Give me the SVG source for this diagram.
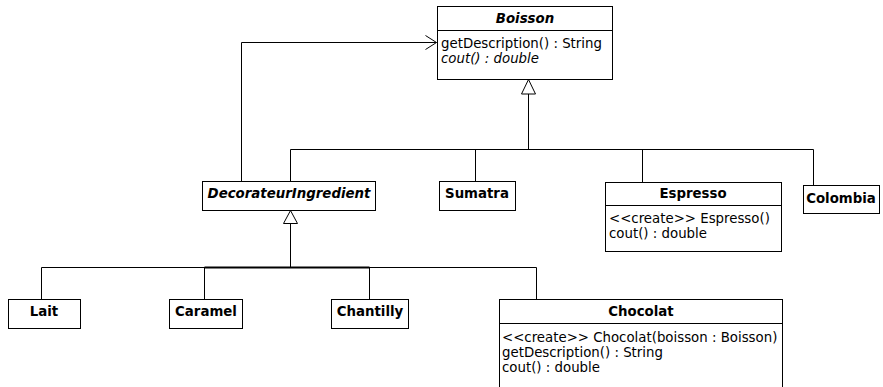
<svg xmlns="http://www.w3.org/2000/svg" width="883" height="387" viewBox="0 0 883 387">
  <style>
    .box { fill: #fff; stroke: #000; stroke-width: 1; }
    .sep { stroke: #000; stroke-width: 1; }
    .t { font-family: "DejaVu Sans", "Noto Sans", sans-serif; font-size: 13.33px; fill: #000; }
    .name { font-weight: bold; text-anchor: middle; }
    .abs { font-style: italic; }
    .ln { fill: none; stroke: #000; stroke-width: 1; }
    .tri { fill: #fff; stroke: #000; stroke-width: 1; }
  </style>
  <defs>
    <marker id="open" viewBox="0 0 12 16" markerWidth="12" markerHeight="16" refX="11.5" refY="8" orient="auto" markerUnits="userSpaceOnUse">
      <path d="M0.5,1 L11.5,8 L0.5,15" fill="none" stroke="#000" stroke-width="1"/>
    </marker>
  </defs>

  <g id="connectors">
    <!-- association DecorateurIngredient -> Boisson -->
    <polyline class="ln" points="241.5,181 241.5,42.5 436.5,42.5" marker-end="url(#open)"/>
    <!-- generalization to Boisson -->
    <polyline class="ln" points="528.5,94 528.5,149.5"/>
    <polyline class="ln" points="290.5,181 290.5,149.5 813.5,149.5 813.5,185"/>
    <line class="ln" x1="475.5" y1="149.5" x2="475.5" y2="181"/>
    <line class="ln" x1="642.5" y1="149.5" x2="642.5" y2="182"/>
    <polygon class="tri" points="528.5,79.5 521.5,94 535.5,94"/>
    <!-- generalization to DecorateurIngredient -->
    <line class="ln" x1="290.5" y1="223.5" x2="290.5" y2="268" stroke-width="2"/>
    <polyline class="ln" points="41.5,299 41.5,267.5 536.5,267.5 536.5,299"/>
    <line class="ln" x1="204.5" y1="267.5" x2="204.5" y2="299"/>
    <line class="ln" x1="369.5" y1="267.5" x2="369.5" y2="299"/>
    <line x1="204.5" y1="267.5" x2="369.5" y2="267.5" stroke="#000" stroke-width="2"/>
    <polygon class="tri" points="290.5,210.5 283.5,223.5 297.5,223.5"/>
  </g>

  <g id="Boisson">
    <rect class="box" x="437.5" y="6.5" width="175" height="73"/>
    <line class="sep" x1="437.5" y1="30.5" x2="612.5" y2="30.5"/>
    <text class="t name abs" x="525" y="23">Boisson</text>
    <text class="t" x="441" y="48">getDescription() : String</text>
    <text class="t abs" x="441" y="63">cout() : double</text>
  </g>

  <g id="DecorateurIngredient">
    <rect class="box" x="202.5" y="181.5" width="173" height="29"/>
    <text class="t name abs" x="289" y="198">DecorateurIngredient</text>
  </g>

  <g id="Sumatra">
    <rect class="box" x="439.5" y="181.5" width="76" height="29"/>
    <text class="t name" x="477" y="198">Sumatra</text>
  </g>

  <g id="Espresso">
    <rect class="box" x="605.5" y="182.5" width="176" height="69"/>
    <line class="sep" x1="605.5" y1="205.5" x2="781.5" y2="205.5"/>
    <text class="t name" x="693" y="198">Espresso</text>
    <text class="t" x="609" y="223">&lt;&lt;create&gt;&gt; Espresso()</text>
    <text class="t" x="609" y="238">cout() : double</text>
  </g>

  <g id="Colombia">
    <rect class="box" x="803.5" y="185.5" width="76" height="28"/>
    <text class="t name" x="841" y="203">Colombia</text>
  </g>

  <g id="Lait">
    <rect class="box" x="8.5" y="299.5" width="72" height="29"/>
    <text class="t name" x="44" y="316">Lait</text>
  </g>

  <g id="Caramel">
    <rect class="box" x="169.5" y="299.5" width="73" height="29"/>
    <text class="t name" x="206" y="316">Caramel</text>
  </g>

  <g id="Chantilly">
    <rect class="box" x="331.5" y="299.5" width="77" height="29"/>
    <text class="t name" x="370" y="316">Chantilly</text>
  </g>

  <g id="Chocolat">
    <rect class="box" x="499.5" y="299.5" width="283" height="95"/>
    <line class="sep" x1="499.5" y1="323.5" x2="782.5" y2="323.5"/>
    <text class="t name" x="641" y="316">Chocolat</text>
    <text class="t" x="502" y="342">&lt;&lt;create&gt;&gt; Chocolat(boisson : Boisson)</text>
    <text class="t" x="502" y="357">getDescription() : String</text>
    <text class="t" x="502" y="372">cout() : double</text>
  </g>
</svg>
